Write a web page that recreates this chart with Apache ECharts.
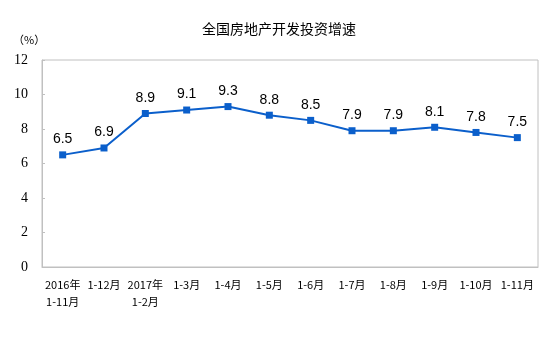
<!DOCTYPE html>
<html>
<head>
<meta charset="utf-8">
<script src="https://cdn.jsdelivr.net/npm/echarts@6/dist/echarts.min.js"></script>
<style>
  html, body { margin: 0; padding: 0; background: #fff; }
  #chart { width: 558px; height: 345px; }
</style>
</head>
<body>
<div id="chart"></div>
<script>
// Periods (cumulative year-to-date)
const categories = ['2016年\n1-11月', '1-12月', '2017年\n1-2月', '1-3月', '1-4月', '1-5月',
  '1-6月', '1-7月', '1-8月', '1-9月', '1-10月', '1-11月'];
// Year-on-year growth of real estate development investment, %
const growth = [6.5, 6.9, 8.9, 9.1, 9.3, 8.8, 8.5, 7.9, 7.9, 8.1, 7.8, 7.5];
const yTicks = { min: 0, max: 12, interval: 2 };

const chart = echarts.init(document.getElementById('chart'));
const axisGray = '#c0c0c0';
chart.setOption({
  animation: false,
  title: {
    text: '全国房地产开发投资增速',
    left: 'center',
    top: 17,
    textStyle: { fontFamily: 'Noto Sans CJK SC', fontSize: 14, fontWeight: 'normal', color: '#000' }
  },
  graphic: [{
    type: 'text',
    left: 13,
    top: 34,
    style: { text: '（%）', font: '11px "Noto Sans CJK SC"', fill: '#000' }
  }],
  grid: { left: 42, right: 20, top: 60, bottom: 78, show: true, borderColor: axisGray, borderWidth: 1 },
  xAxis: {
    type: 'category',
    data: categories,
    boundaryGap: true,
    axisLine: { lineStyle: { color: axisGray } },
    axisTick: { inside: true, length: 4, lineStyle: { color: axisGray } },
    axisLabel: {
      interval: 0,
      margin: 9,
      color: '#000',
      fontFamily: 'Noto Sans CJK SC',
      fontSize: 11,
      lineHeight: 17,
      align: 'center'
    }
  },
  yAxis: {
    type: 'value',
    min: yTicks.min,
    max: yTicks.max,
    interval: yTicks.interval,
    axisLine: { show: true, lineStyle: { color: axisGray } },
    axisTick: { show: true, inside: true, length: 3, lineStyle: { color: axisGray } },
    splitLine: { show: false },
    axisLabel: { color: '#000', fontFamily: 'Liberation Serif', fontSize: 14, margin: 14 }
  },
  series: [{
    type: 'line',
    data: growth,
    symbol: 'rect',
    symbolSize: 7,
    lineStyle: { color: '#0b5fcb', width: 2 },
    itemStyle: { color: '#0b5fcb' },
    label: {
      show: true,
      position: 'top',
      distance: 5,
      color: '#000',
      fontFamily: 'Liberation Sans',
      fontSize: 14
    }
  }]
});
</script>
</body>
</html>
